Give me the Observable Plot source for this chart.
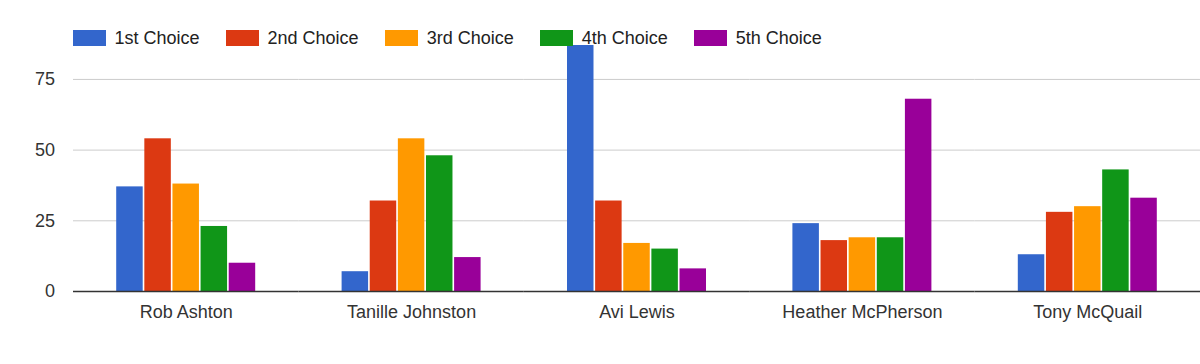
<!DOCTYPE html>
<html><head><meta charset="utf-8">
<script src="https://cdn.jsdelivr.net/npm/d3@7"></script>
<script src="https://cdn.jsdelivr.net/npm/@observablehq/plot@0.6"></script>
<style>
body{margin:0;background:#fff;font-family:"Liberation Sans",Arial,sans-serif;}
#legend{position:relative;height:44px;width:1200px;z-index:2;}
#legend .items{position:absolute;left:73px;top:30px;display:flex;height:16px;align-items:center;}
.item{display:flex;align-items:center;margin-right:26.5px;}
.sw{width:33px;height:16px;margin-right:8.5px;}
.lab{font-size:18px;line-height:16px;color:#222;white-space:nowrap;}
svg{display:block}
</style></head><body>
<div id="legend"><div class="items"></div></div>
<div id="chart"></div>
<script>
const candidates = ["Rob Ashton", "Tanille Johnston", "Avi Lewis", "Heather McPherson", "Tony McQuail"];
const choices = ["1st Choice", "2nd Choice", "3rd Choice", "4th Choice", "5th Choice"];
const firstChoice  = [37, 7, 87, 24, 13];
const secondChoice = [54, 32, 32, 18, 28];
const thirdChoice  = [38, 54, 17, 19, 30];
const fourthChoice = [23, 48, 15, 19, 43];
const fifthChoice  = [10, 12, 8, 68, 33];
const yTicks = [0, 25, 50, 75];
const colors = ["#3366cc", "#dc3912", "#ff9900", "#109618", "#990099"];

const series = [firstChoice, secondChoice, thirdChoice, fourthChoice, fifthChoice];
const data = candidates.flatMap((c, i) => choices.map((ch, j) => ({candidate: c, choice: ch, value: series[j][i]})));

// legend
const items = document.querySelector("#legend .items");
choices.forEach((ch, j) => {
  const it = document.createElement("div"); it.className = "item";
  const sw = document.createElement("div"); sw.className = "sw"; sw.style.background = colors[j];
  const lb = document.createElement("span"); lb.className = "lab"; lb.textContent = ch;
  it.appendChild(sw); it.appendChild(lb); items.appendChild(it);
});

const chart = Plot.plot({
  width: 1200, height: 320,
  marginLeft: 73, marginRight: 0, marginTop: 1, marginBottom: 73,
  style: {fontSize: "18px", fontFamily: "'Liberation Sans', Arial, sans-serif", color: "#333", background: "transparent", overflow: "visible"},
  fx: {domain: candidates, padding: 0, round: false, axis: "bottom", label: null, tickSize: 0, tickPadding: 14},
  x: {domain: choices, axis: null, round: false, paddingInner: 0.058, paddingOuter: 1.536},
  y: {domain: [0, 87], axis: "left", ticks: yTicks, tickSize: 0, tickPadding: 18.5, label: null},
  color: {domain: choices, range: colors},
  marks: [
    Plot.ruleY(yTicks.filter(d => d > 0), {stroke: "#cccccc", strokeWidth: 1}),
    Plot.barY(data, {fx: "candidate", x: "choice", y: "value", fill: "choice"}),
    Plot.ruleY([0], {stroke: "#333333", strokeWidth: 1.5})
  ]
});
document.getElementById("chart").appendChild(chart);
</script>
</body></html>
